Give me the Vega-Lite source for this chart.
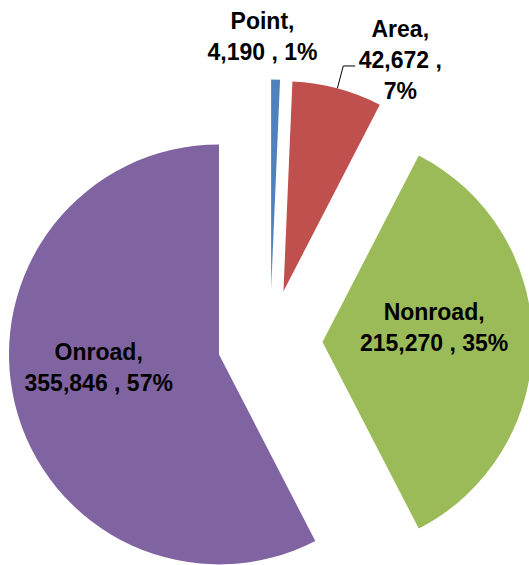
{
  "$schema": "https://vega.github.io/schema/vega-lite/v6.json",
  "width": 529,
  "height": 565,
  "padding": 0,
  "autosize": {"type": "none"},
  "config": {"view": {"stroke": null}},
  "data": {
    "values": [
      {"name": "Point", "value": 4190, "label": "Point,\n4,190 , 1%"},
      {"name": "Area", "value": 42672, "label": "Area,\n42,672 ,\n7%"},
      {"name": "Nonroad", "value": 215270, "label": "Nonroad,\n215,270 , 35%"},
      {"name": "Onroad", "value": 355846, "label": "Onroad,\n355,846 , 57%"}
    ]
  },
  "transform": [
    {"joinaggregate": [{"op": "sum", "field": "value", "as": "total"}]},
    {"window": [{"op": "sum", "field": "value", "as": "cum"}], "frame": [null, 0]},
    {"calculate": "datum.cum / datum.total", "as": "f1"},
    {"calculate": "(datum.cum - datum.value) / datum.total", "as": "f0"},
    {"calculate": "PI * (datum.f0 + datum.f1)", "as": "m"},
    {"calculate": "0.25 * sin(datum.m)", "as": "ax"},
    {"calculate": "0.25 * cos(datum.m)", "as": "ay"}
  ],
  "layer": [
    {
      "mark": {"type": "arc", "radius": 210},
      "encoding": {
        "x": {"field": "ax", "type": "quantitative", "axis": null, "scale": {"domain": [-1.285714, 1.233333], "nice": false, "zero": false}},
        "y": {"field": "ay", "type": "quantitative", "axis": null, "scale": {"domain": [-1.061905, 1.628571], "nice": false, "zero": false}},
        "theta": {"field": "f0", "type": "quantitative", "stack": null, "scale": {"domain": [0, 1], "range": [0, 6.283185307]}},
        "theta2": {"field": "f1"},
        "color": {"field": "name", "type": "nominal", "legend": null,
          "scale": {"domain": ["Point", "Area", "Nonroad", "Onroad"], "range": ["#4F81BD", "#C0504D", "#9BBB59", "#8064A2"]}}
      }
    },
    {
      "transform": [
        {"filter": "datum.f1 - datum.f0 > 0.2"},
        {"calculate": "datum.ax + 0.56 * sin(datum.m)", "as": "lx"},
        {"calculate": "datum.ay + 0.56 * cos(datum.m)", "as": "ly"}
      ],
      "mark": {"type": "text", "font": "Liberation Sans", "fontWeight": "bold", "fontSize": 23, "lineHeight": 31, "lineBreak": "\n", "align": "center", "baseline": "middle", "color": "#000000", "dx": -6, "dy": -29},
      "encoding": {
        "x": {"field": "lx", "type": "quantitative"},
        "y": {"field": "ly", "type": "quantitative"},
        "text": {"field": "label"}
      }
    },
    {
      "transform": [
        {"filter": "datum.name == 'Point'"},
        {"calculate": "datum.ax + 1.21 * sin(datum.m)", "as": "lx"},
        {"calculate": "datum.ay + 1.21 * cos(datum.m)", "as": "ly"}
      ],
      "mark": {"type": "text", "font": "Liberation Sans", "fontWeight": "bold", "fontSize": 23, "lineHeight": 31, "lineBreak": "\n", "align": "center", "baseline": "middle", "color": "#000000", "dx": -14, "dy": -13},
      "encoding": {
        "x": {"field": "lx", "type": "quantitative"},
        "y": {"field": "ly", "type": "quantitative"},
        "text": {"field": "label"}
      }
    },
    {
      "transform": [
        {"filter": "datum.name == 'Area'"},
        {"calculate": "datum.ax + 1.11 * sin(datum.m) + 0.057", "as": "lx"},
        {"calculate": "datum.ay + 1.11 * cos(datum.m)", "as": "ly"}
      ],
      "mark": {"type": "text", "font": "Liberation Sans", "fontWeight": "bold", "fontSize": 23, "lineHeight": 31, "lineBreak": "\n", "align": "center", "baseline": "middle", "color": "#000000", "dx": 45, "dy": -36},
      "encoding": {
        "x": {"field": "lx", "type": "quantitative"},
        "y": {"field": "ly", "type": "quantitative"},
        "text": {"field": "label"}
      }
    },
    {
      "transform": [
        {"filter": "datum.name == 'Area'"},
        {"calculate": "datum.ax + sin(datum.m)", "as": "p1x"},
        {"calculate": "datum.ay + cos(datum.m)", "as": "p1y"},
        {"calculate": "datum.ax + 1.11 * sin(datum.m)", "as": "p2x"},
        {"calculate": "datum.ay + 1.11 * cos(datum.m)", "as": "p2y"}
      ],
      "mark": {"type": "rule", "color": "#000000", "strokeWidth": 1},
      "encoding": {
        "x": {"field": "p1x", "type": "quantitative"},
        "y": {"field": "p1y", "type": "quantitative"},
        "x2": {"field": "p2x"},
        "y2": {"field": "p2y"}
      }
    },
    {
      "transform": [
        {"filter": "datum.name == 'Area'"},
        {"calculate": "datum.ax + 1.11 * sin(datum.m)", "as": "p2x"},
        {"calculate": "datum.ay + 1.11 * cos(datum.m)", "as": "p2y"},
        {"calculate": "datum.p2x + 0.057", "as": "p3x"}
      ],
      "mark": {"type": "rule", "color": "#000000", "strokeWidth": 1},
      "encoding": {
        "x": {"field": "p2x", "type": "quantitative"},
        "y": {"field": "p2y", "type": "quantitative"},
        "x2": {"field": "p3x"}
      }
    }
  ]
}
